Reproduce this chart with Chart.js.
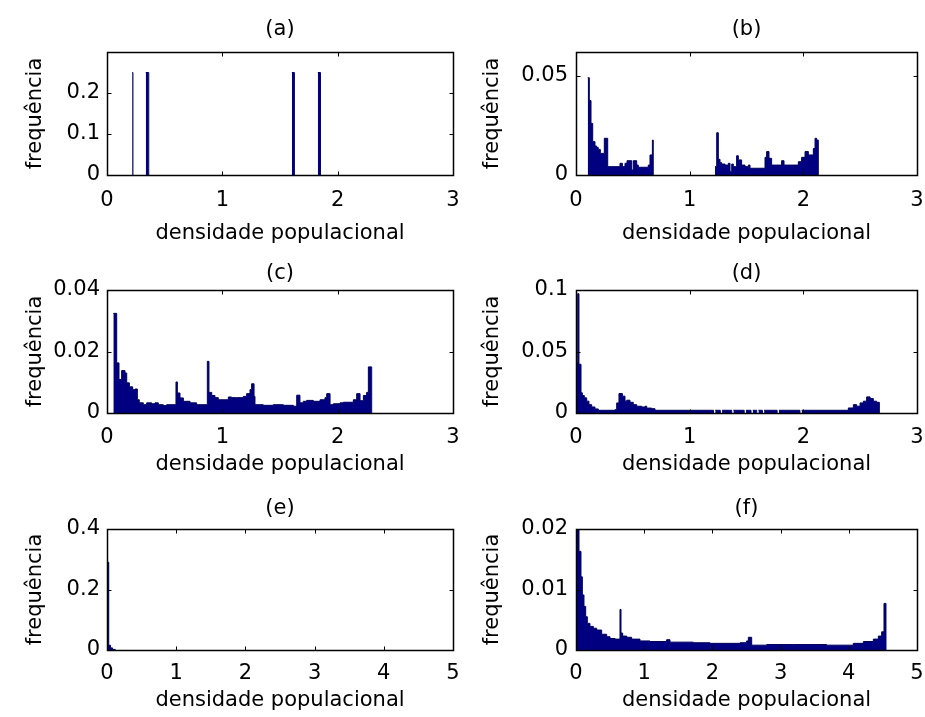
<!DOCTYPE html>
<html>
<head>
<meta charset="utf-8">
<script src="https://cdn.jsdelivr.net/npm/chart.js@4.4.1/dist/chart.umd.min.js"></script>
<style>
html, body { margin: 0; padding: 0; background: #fff; }
#wrap { position: relative; width: 925px; height: 717px; overflow: hidden; background: #fff; }
#wrap canvas { position: absolute; }
</style>
</head>
<body>
<div id="wrap"></div>
<script>
// ---------- text ----------
const panelTitles = ['(a)', '(b)', '(c)', '(d)', '(e)', '(f)'];
const xAxisLabel = 'densidade populacional';
const yAxisLabel = 'frequência';

// ---------- axis ranges and tick values ----------
const xMaxes = [3, 3, 3, 3, 5, 5];
const yMaxes = [0.3, 0.062, 0.04, 0.1, 0.4, 0.02];
const yTicksA = [0, 0.1, 0.2];
const yTicksB = [0, 0.05];
const yTicksC = [0, 0.02, 0.04];
const yTicksD = [0, 0.05, 0.1];
const yTicksE = [0, 0.2, 0.4];
const yTicksF = [0, 0.01, 0.02];

// ---------- histogram data: bin edges and frequency per bin ----------
const edgesA = [0.219, 0.225, 0.336, 0.362, 1.603, 1.625, 1.828, 1.851];
const freqA  = [0.25, 0, 0.25, 0, 0.25, 0, 0.25];

const edgesB = [0.103, 0.117, 0.132, 0.147, 0.167, 0.182, 0.196, 0.214, 0.249, 0.279,
                0.387, 0.408, 0.431, 0.449, 0.490, 0.504, 0.534, 0.548, 0.636, 0.651,
                0.672, 0.680,
                1.223, 1.238, 1.252, 1.267, 1.282, 1.311, 1.340, 1.355, 1.370, 1.384,
                1.413, 1.428, 1.457, 1.487, 1.516, 1.531, 1.663, 1.677, 1.698, 1.721,
                1.809, 1.830, 1.956, 1.985, 2.015, 2.044, 2.088, 2.103, 2.117, 2.132];
const freqB  = [0.049, 0.0375, 0.026, 0.0168, 0.0146, 0.0139, 0.0129, 0.0109, 0.0185, 0.0042,
                0.0059, 0.0042, 0.0059, 0.0072, 0.0025, 0.0072, 0.005, 0.0039, 0.005, 0.0101,
                0.0176,
                0,
                0.0042, 0.0213, 0.0079, 0.0062, 0.0055, 0.005, 0.0059, 0.0017, 0.0055, 0.0042,
                0.0097, 0.0076, 0.005, 0.0042, 0.005, 0.0034, 0.0089, 0.0118, 0.0084, 0.005,
                0.0072, 0.005, 0.0067, 0.0089, 0.0118, 0.0101, 0.0134, 0.0185, 0.0176];

const edgesC = [0.055, 0.084, 0.104, 0.127, 0.156, 0.171, 0.194, 0.223, 0.243, 0.263,
                0.280, 0.315, 0.344, 0.387, 0.416, 0.445, 0.488, 0.517, 0.598, 0.610,
                0.633, 0.662, 0.720, 0.777, 0.870, 0.884, 0.908, 0.936, 0.965, 1.052,
                1.081, 1.124, 1.182, 1.211, 1.240, 1.254, 1.275, 1.283, 1.355, 1.442,
                1.529, 1.616, 1.645, 1.673, 1.702, 1.731, 1.789, 1.847, 1.890, 1.905,
                1.934, 1.962, 2.020, 2.049, 2.136, 2.165, 2.194, 2.223, 2.251, 2.266, 2.295];
const freqC  = [0.0324, 0.0163, 0.0109, 0.0138, 0.013, 0.0098, 0.0085, 0.0076, 0.0078, 0.0043,
                0.0033, 0.0027, 0.0033, 0.003, 0.0033, 0.0027, 0.0024, 0.0027, 0.0101, 0.0065,
                0.0049, 0.0038, 0.0033, 0.0027, 0.0168, 0.0067, 0.0057, 0.005, 0.0043, 0.0052,
                0.005, 0.005, 0.0054, 0.0063, 0.0076, 0.0095, 0.0054, 0.0027, 0.0025, 0.0027,
                0.0025, 0.0022, 0.0058, 0.0033, 0.0038, 0.0041, 0.0038, 0.0043, 0.005, 0.0063,
                0.0027, 0.003, 0.0033, 0.0035, 0.0043, 0.0063, 0.004, 0.0057, 0.0067, 0.015];

const edgesD = [0, 0.015, 0.026, 0.044, 0.056, 0.073, 0.094, 0.114, 0.138, 0.167,
                0.196, 0.343, 0.358, 0.378, 0.408, 0.431, 0.446, 0.475, 0.504, 0.534,
                0.578, 0.607, 0.622, 0.666, 0.695, 1.21, 1.225, 1.27, 1.285, 1.37,
                1.385, 1.48, 1.495, 1.54, 1.555, 1.59, 1.605, 1.64, 1.655, 1.77,
                1.785, 1.97, 1.985, 2.396, 2.44, 2.469, 2.499, 2.528, 2.557, 2.587,
                2.616, 2.645, 2.669];
const freqD  = [0.041, 0.097, 0.0396, 0.0164, 0.0142, 0.0123, 0.0096, 0.0068, 0.0049, 0.0033,
                0.0022, 0.0027, 0.0082, 0.0158, 0.0137, 0.0096, 0.0104, 0.0087, 0.0068, 0.0055,
                0.0049, 0.0055, 0.004, 0.0035, 0.0022, 0, 0.0022, 0, 0.0022, 0,
                0.0022, 0, 0.0022, 0, 0.0022, 0, 0.0022, 0, 0.0022, 0,
                0.0022, 0, 0.0022, 0.0041, 0.0068, 0.0055, 0.0082, 0.0096, 0.0131, 0.0117,
                0.0096, 0.0087];

const edgesE = [0, 0.025, 0.05, 0.08, 0.12];
const freqE  = [0.29, 0.016, 0.007, 0.002];

const edgesF = [0, 0.044, 0.073, 0.093, 0.117, 0.142, 0.166, 0.205, 0.254, 0.303,
                0.376, 0.450, 0.499, 0.572, 0.621, 0.645, 0.660, 0.684, 0.743, 0.816,
                0.938, 1.085, 1.329, 1.378, 1.720, 1.965, 2.405, 2.502, 2.527, 2.576,
                2.796, 3.187, 3.675, 4.066, 4.213, 4.360, 4.433, 4.482, 4.516, 4.545];
const freqF  = [0.02, 0.0163, 0.0121, 0.0091, 0.0072, 0.0055, 0.0044, 0.0039, 0.0036, 0.0033,
                0.0026, 0.0022, 0.0019, 0.0018, 0.0018, 0.0067, 0.0028, 0.0023, 0.0021, 0.0018,
                0.0015, 0.0014, 0.0017, 0.0013, 0.0012, 0.0011, 0.0012, 0.0015, 0.0021, 0.0008,
                0.0009, 0.0009, 0.0008, 0.0011, 0.0014, 0.0018, 0.0023, 0.003, 0.0077];

const allEdges = [edgesA, edgesB, edgesC, edgesD, edgesE, edgesF];
const allFreq  = [freqA, freqB, freqC, freqD, freqE, freqF];
const allYTicks = [yTicksA, yTicksB, yTicksC, yTicksD, yTicksE, yTicksF];

// ---------- page layout (pixel boxes of each subplot) ----------
const FONT = 'DejaVu Sans';
const FS = 21;
const LH = FS * 1.2;
const BAR_FILL = 'rgb(0,0,128)';
const BAR_EDGE = 'rgb(0,0,92)';
const rowGeom = [
  { cy: 0,   ch: 250, T: 52,  B: 175, titleY: 30,  xtickY: 199, xlabelY: 234 },
  { cy: 240, ch: 250, T: 290, B: 413, titleY: 274, xtickY: 436, xlabelY: 465 },
  { cy: 478, ch: 239, T: 529, B: 650, titleY: 509, xtickY: 672, xlabelY: 701 }
];
const colGeom = [
  { cx: 0,   cw: 462, L: 107, R: 453, ylabelX: 35.5,  ytickPad: 7 },
  { cx: 462, cw: 463, L: 576, R: 917, ylabelX: 492.5, ytickPad: 8 }
];

Chart.defaults.font.family = FONT;
Chart.defaults.color = '#000';

const framePlugin = {
  id: 'matlabFrame',
  afterDraw(chart) {
    const { ctx, chartArea: a, scales: { x, y } } = chart;
    const L = Math.round(a.left) + 0.5, R = Math.round(a.right) + 0.5;
    const T = Math.round(a.top) + 0.5, B = Math.round(a.bottom) + 0.5;
    const tl = 4;
    ctx.save();
    ctx.strokeStyle = '#000';
    ctx.lineWidth = 1.5;
    ctx.beginPath();
    ctx.rect(L, T, R - L, B - T);
    ctx.stroke();
    ctx.lineWidth = 1;
    ctx.beginPath();
    x.ticks.forEach(t => {
      const px = Math.round(x.getPixelForValue(t.value)) + 0.5;
      ctx.moveTo(px, B); ctx.lineTo(px, B - tl);
      ctx.moveTo(px, T); ctx.lineTo(px, T + tl);
    });
    y.ticks.forEach(t => {
      const py = Math.round(y.getPixelForValue(t.value)) + 0.5;
      ctx.moveTo(L, py); ctx.lineTo(L + tl, py);
      ctx.moveTo(R, py); ctx.lineTo(R - tl, py);
    });
    ctx.stroke();
    ctx.restore();
  }
};

function histPoints(edges, freq) {
  const pts = [{ x: edges[0], y: 0 }];
  freq.forEach((f, i) => pts.push({ x: edges[i], y: f }));
  pts.push({ x: edges[edges.length - 1], y: 0 });
  return pts;
}

const wrap = document.getElementById('wrap');
for (let i = 0; i < 6; i++) {
  const r = rowGeom[Math.floor(i / 2)];
  const c = colGeom[i % 2];
  const cv = document.createElement('canvas');
  cv.width = c.cw; cv.height = r.ch;
  cv.style.left = c.cx + 'px'; cv.style.top = r.cy + 'px';
  cv.style.width = c.cw + 'px'; cv.style.height = r.ch + 'px';
  wrap.appendChild(cv);

  const titlePadTop = r.titleY - r.cy - LH / 2;
  const titlePadBottom = r.T - r.titleY - LH / 2;
  const xTickPad = r.xtickY + 1.4 - r.B - LH / 2;
  const xTitlePad = r.cy + r.ch - r.xlabelY - LH / 2;
  const yTitlePad = c.ylabelX - c.cx - LH / 2;
  const yTicks = allYTicks[i];

  new Chart(cv, {
    type: 'line',
    data: {
      datasets: [{
        data: histPoints(allEdges[i], allFreq[i]),
        stepped: 'before',
        fill: 'origin',
        backgroundColor: BAR_FILL,
        borderColor: BAR_EDGE,
        borderWidth: 1,
        segment: {
          borderColor: ctx => (ctx.p0.parsed.y === 0 ? 'rgba(0,0,0,0)' : BAR_EDGE)
        },
        pointRadius: 0,
        pointHoverRadius: 0
      }]
    },
    options: {
      responsive: false,
      animation: false,
      devicePixelRatio: 1,
      events: [],
      layout: { padding: { left: 0, top: 0, bottom: 0, right: c.cx + c.cw - c.R } },
      plugins: {
        legend: { display: false },
        tooltip: { enabled: false },
        title: {
          display: true,
          text: panelTitles[i],
          fullSize: false,
          color: '#000',
          font: { family: FONT, size: FS, weight: 'normal' },
          padding: { top: titlePadTop, bottom: titlePadBottom }
        }
      },
      scales: {
        x: {
          type: 'linear',
          min: 0,
          max: xMaxes[i],
          grid: { display: false, drawTicks: false, tickLength: 0 },
          border: { display: false },
          ticks: { stepSize: 1, autoSkip: false, maxRotation: 0, padding: xTickPad,
                   font: { family: FONT, size: FS }, color: '#000' },
          title: { display: true, text: xAxisLabel, color: '#000',
                   font: { family: FONT, size: FS }, padding: { top: 0, bottom: xTitlePad } },
          afterFit: s => { s.height = r.cy + r.ch - r.B; s.paddingLeft = 0; s.paddingRight = 0; }
        },
        y: {
          type: 'linear',
          min: 0,
          max: yMaxes[i],
          grid: { display: false, drawTicks: false, tickLength: 0 },
          border: { display: false },
          afterBuildTicks: s => { s.ticks = yTicks.map(v => ({ value: v })); },
          ticks: { padding: c.ytickPad, font: { family: FONT, size: FS }, color: '#000',
                   callback: v => String(v) },
          title: { display: true, text: yAxisLabel, color: '#000',
                   font: { family: FONT, size: FS }, padding: { top: yTitlePad, bottom: 0 } },
          afterFit: s => { s.width = c.L - c.cx; s.paddingTop = 0; s.paddingBottom = 0; }
        }
      }
    },
    plugins: [framePlugin]
  });
}
</script>
</body>
</html>
